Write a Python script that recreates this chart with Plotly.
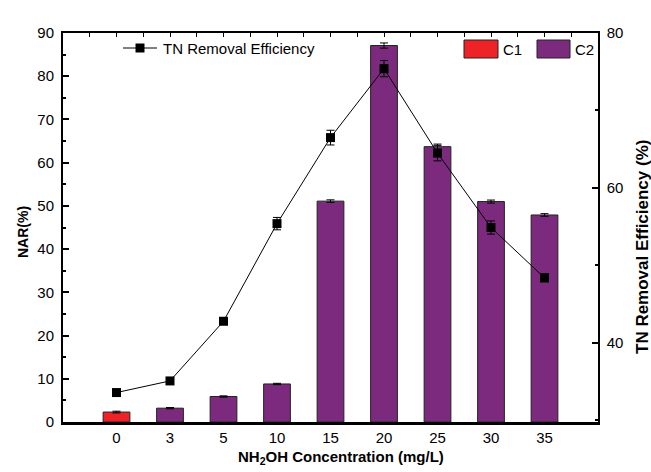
import plotly.graph_objects as go

# ---- data ----
concentrations = ["0", "3", "5", "10", "15", "20", "25", "30", "35"]
nar_c1 = [2.3]                      # C1 at 0 mg/L
nar_c1_err = [0.2]
nar_c2 = [3.2, 5.9, 8.8, 51.1, 87.1, 63.7, 51.0, 47.9]   # C2 at 3..35 mg/L
nar_c2_err = [0.15, 0.15, 0.15, 0.3, 0.6, 0.6, 0.35, 0.3]
tn_removal = [33.6, 35.1, 42.8, 55.4, 66.5, 75.4, 64.5, 54.9, 48.4]
tn_err = [0.3, 0.3, 0.4, 0.8, 0.95, 1.05, 1.0, 0.85, 0.5]

idx = list(range(len(concentrations)))

RED = "#ED2328"
PURPLE = "#7B2A7D"
FONT = "Liberation Sans, Arial, sans-serif"

W, H = 651, 472
# plot area in pixels
L, R, T, B = 63, 598, 33, 422

def px(x):
    return (x - L) / (R - L)

def py(y):
    return (B - y) / (B - T)

fig = go.Figure()

fig.add_trace(go.Bar(
    x=idx[:1], y=nar_c1, name="C1", width=0.5,
    marker=dict(color=RED, line=dict(color="#222222", width=1)),
    error_y=dict(type="data", array=nar_c1_err, color="black", thickness=1, width=4),
    showlegend=False, xaxis="x", yaxis="y"))

fig.add_trace(go.Bar(
    x=idx[1:], y=nar_c2, name="C2", width=0.5,
    marker=dict(color=PURPLE, line=dict(color="#222222", width=1)),
    error_y=dict(type="data", array=nar_c2_err, color="black", thickness=1, width=4),
    showlegend=False, xaxis="x", yaxis="y"))

fig.add_trace(go.Scatter(
    x=idx, y=tn_removal, name="TN Removal Efficiency", mode="lines+markers",
    line=dict(color="black", width=1),
    marker=dict(symbol="square", size=9, color="black"),
    error_y=dict(type="data", array=tn_err, color="black", thickness=1, width=4),
    showlegend=False, xaxis="x2", yaxis="y2"))

shapes = []
annotations = []

# custom legend: TN line
shapes.append(dict(type="line", xref="paper", yref="paper",
                   x0=px(123), x1=px(157), y0=py(48), y1=py(48),
                   line=dict(color="black", width=1)))
shapes.append(dict(type="rect", xref="paper", yref="paper",
                   x0=px(135.5), x1=px(144.5), y0=py(52.5), y1=py(43.5),
                   fillcolor="black", line=dict(width=0)))
annotations.append(dict(text="TN Removal Efficiency", xref="paper", yref="paper",
                        x=px(161), y=py(48.5), xanchor="left", yanchor="middle",
                        showarrow=False, font=dict(size=15, family=FONT, color="black")))
# C1 / C2 boxes
for (x0, x1, col, lab, tx) in [(464, 498, RED, "C1", 501), (537, 570, PURPLE, "C2", 573)]:
    shapes.append(dict(type="rect", xref="paper", yref="paper",
                       x0=px(x0), x1=px(x1), y0=py(58), y1=py(40),
                       fillcolor=col, line=dict(color="#222222", width=1)))
    annotations.append(dict(text=lab, xref="paper", yref="paper",
                            x=px(tx), y=py(49.5), xanchor="left", yanchor="middle",
                            showarrow=False, font=dict(size=15, family=FONT, color="black")))

# axis titles
annotations.append(dict(text="<b>NAR(%)</b>", xref="paper", yref="paper",
                        x=px(23), y=py(232), textangle=-90, showarrow=False,
                        xanchor="center", yanchor="middle",
                        font=dict(size=14, family=FONT, color="black")))
annotations.append(dict(text="<b>TN Removal Efficiency (%)</b>", xref="paper", yref="paper",
                        x=px(642), y=py(247), textangle=-90, showarrow=False,
                        xanchor="center", yanchor="middle",
                        font=dict(size=17, family=FONT, color="black")))
annotations.append(dict(text="<b>NH<sub>2</sub>OH Concentration (mg/L)</b>", xref="paper", yref="paper",
                        x=px(341), y=py(457), showarrow=False,
                        xanchor="center", yanchor="middle",
                        font=dict(size=15, family=FONT, color="black")))

fig.update_layout(
    width=W, height=H,
    margin=dict(l=L, r=W - R, t=T, b=H - B, pad=0),
    plot_bgcolor="white", paper_bgcolor="white",
    font=dict(family=FONT, size=15, color="black"),
    barmode="overlay",
    shapes=shapes, annotations=annotations,
    xaxis=dict(range=[-1, 9], tickmode="array", tickvals=idx, ticktext=concentrations,
               showline=True, linecolor="black", linewidth=3, ticks="",
               showgrid=False, zeroline=False, tickfont=dict(size=15), fixedrange=True),
    xaxis2=dict(range=[-1, 9], overlaying="x", side="top", anchor="y",
                tick0=0, dtick=0.5, ticks="inside", ticklen=4, tickwidth=1,
                tickcolor="black", showticklabels=False,
                showline=True, linecolor="black", linewidth=1.5,
                showgrid=False, zeroline=False),
    yaxis=dict(range=[0, 90], tick0=0, dtick=10, ticks="inside", ticklen=6, tickwidth=1.5,
               tickcolor="black", showline=True, linecolor="black", linewidth=2,
               minor=dict(dtick=5, ticks="inside", ticklen=3, tickwidth=1.5, tickcolor="black"),
               showgrid=False, zeroline=False, tickfont=dict(size=15), ticklabelstandoff=4),
    yaxis2=dict(range=[29.8, 80], overlaying="y", side="right", anchor="x2",
                tick0=0, dtick=20, ticks="inside", ticklen=6, tickwidth=1.5,
                tickcolor="black", showline=True, linecolor="black", linewidth=1.5,
                minor=dict(dtick=10, ticks="inside", ticklen=3, tickwidth=1.5, tickcolor="black"),
                showgrid=False, zeroline=False, tickfont=dict(size=15), ticklabelstandoff=4),
)

fig.write_html(
    "out.html",
    config={"displayModeBar": False},
    post_script=(
        "document.body.style.margin='0';"
        "document.body.style.overflow='hidden';"
        "document.documentElement.style.overflow='hidden';"
    ),
)
